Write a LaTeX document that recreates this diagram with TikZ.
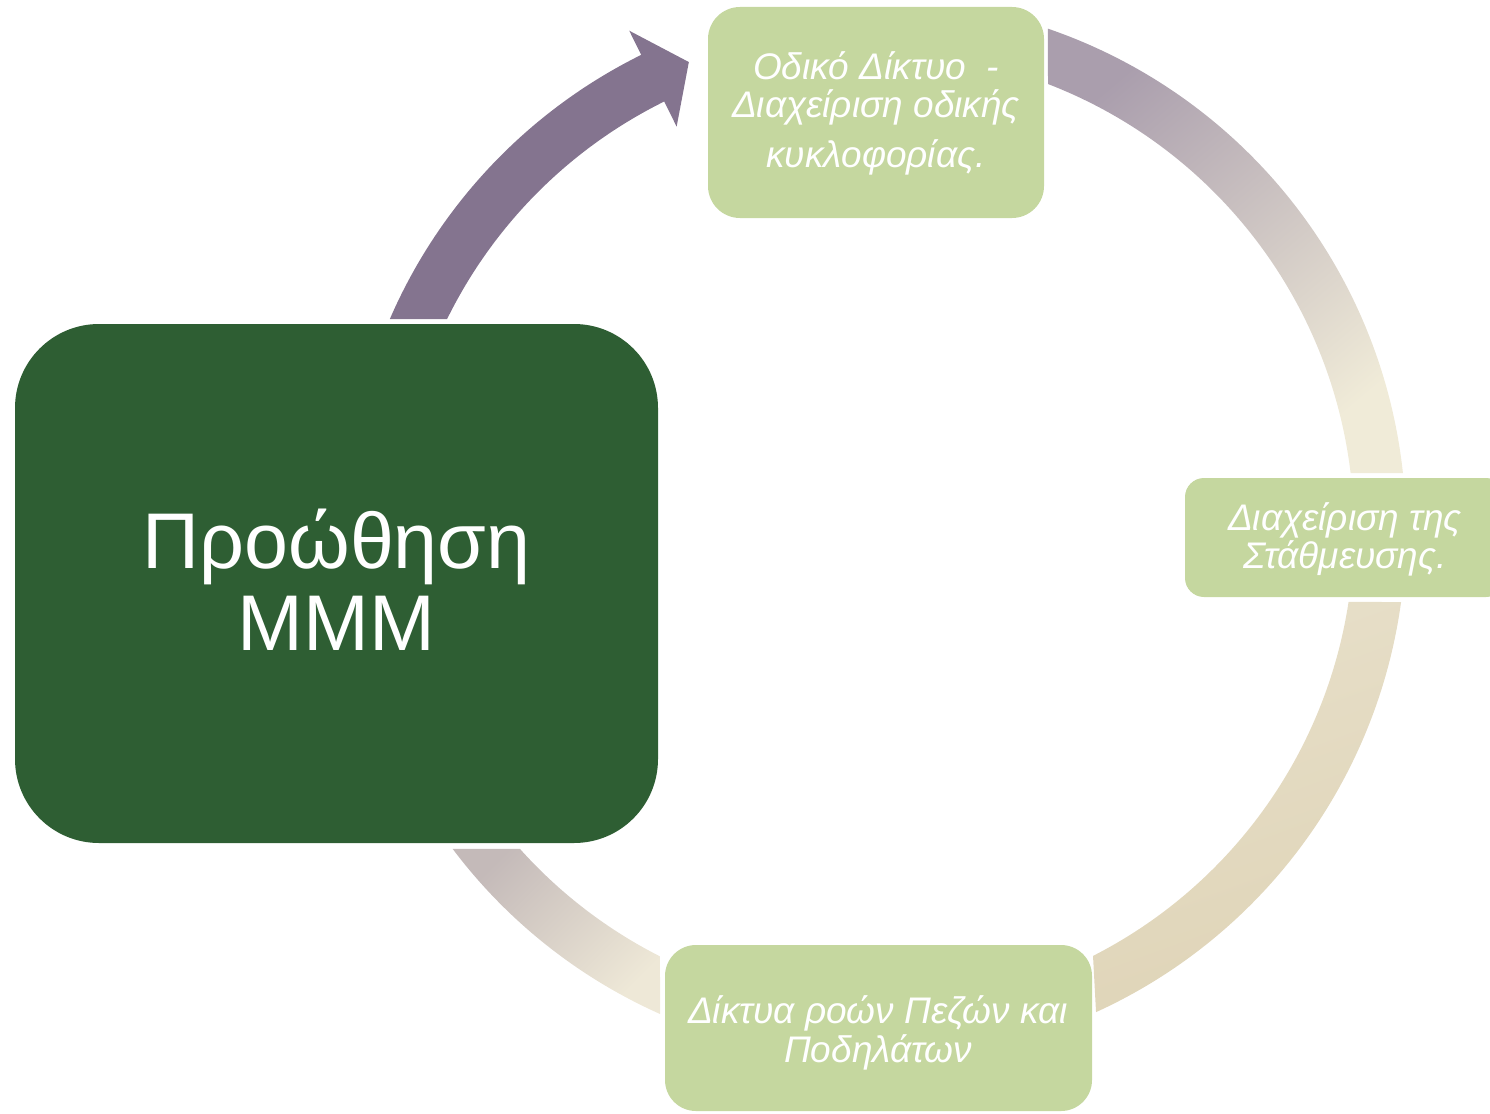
\documentclass[tikz,border=0pt]{standalone}
\usepackage{fontspec}
\setmainfont{Liberation Sans}
\definecolor{dkgreen}{HTML}{2E5E33}
\definecolor{ltgreen}{HTML}{C5D79F}
\definecolor{arrowc}{HTML}{84748F}
\definecolor{ringAa}{HTML}{AA9EAD}
\definecolor{ringAb}{HTML}{F0EBD8}
\definecolor{ringBa}{HTML}{E7DFC9}
\definecolor{ringBb}{HTML}{DFD4B7}
\definecolor{ringCa}{HTML}{C4BAB9}
\definecolor{ringCb}{HTML}{EEE8D7}
\begin{document}
\begin{tikzpicture}[x=1pt,y=1pt,
  gbox/.style={fill=ltgreen, draw=none, inner sep=0pt},
  gtext/.style={text=white, align=center, inner sep=0pt, font=\itshape},
  mtext/.style={text=white, align=center, inner sep=0pt}]
\useasboundingbox (0,0) rectangle (1490,-1113);
\clip (0,0) rectangle (1490,-1113);
\coordinate (C) at (876,-530);

% ring segment: top-right
\shade[top color=ringAa, bottom color=ringAb, shading angle=40]
  ([shift={(C)}]71.07:530) arc[start angle=71.07, end angle=6.17, radius=530]
  -- ([shift={(C)}]6.85:478) arc[start angle=6.85, end angle=68.91, radius=478] -- cycle;
% ring segment: right-bottom
\shade[top color=ringBa, bottom color=ringBb, shading angle=20]
  ([shift={(C)}]-7.81:530) arc[start angle=-7.81, end angle=-65.47, radius=530]
  -- ([shift={(C)}]-63.0:478) arc[start angle=-63.0, end angle=-8.66, radius=478] -- cycle;
% ring segment: bottom-left
\shade[top color=ringCa, bottom color=ringCb, shading angle=45]
  ([shift={(C)}]217.0:530) arc[start angle=217.0, end angle=245.95, radius=530]
  -- ([shift={(C)}]243.13:478) arc[start angle=243.13, end angle=221.86, radius=478] -- cycle;
% arrow
\fill[arrowc]
  ([shift={(C)}]156.54:530) arc[start angle=156.54, end angle=116.3, radius=530]
  -- ([shift={(C)}]116.3:557) -- ([shift={(C)}]111.8:504) -- ([shift={(C)}]116.3:450)
  -- ([shift={(C)}]116.3:478) arc[start angle=116.3, end angle=153.81, radius=478] -- cycle;

% boxes
\node[fill=dkgreen, draw=none, rounded corners=84pt, minimum width=643pt, minimum height=519pt, inner sep=0pt] (mmm) at (336.5,-583.5) {};
\node[gbox, rounded corners=32pt, minimum width=336pt, minimum height=211pt] (road) at (876,-112.5) {};
\node[gbox, rounded corners=19pt, minimum width=320pt, minimum height=119pt] (park) at (1345,-537.5) {};
\node[gbox, rounded corners=31pt, minimum width=427pt, minimum height=166pt] (walk) at (878.5,-1028) {};

% texts
\node[mtext, font=\fontsize{79}{82}\selectfont] (tmmm) at ([yshift=4pt]mmm.center) {Προώθηση\\ΜΜΜ};
\node[gtext, font=\fontsize{37}{38}\selectfont\itshape] (troad) at ([yshift=-0.8pt]road.center) {Οδικό Δίκτυο\ \ -\\Διαχείριση οδικής\\[12pt]κυκλοφορίας.};
\node[gtext, font=\fontsize{37}{38}\selectfont\itshape] (tpark) at (1345,-539) {Διαχείριση της\\Στάθμευσης.};
\node[gtext, font=\fontsize{37}{39}\selectfont\itshape] (twalk) at (878,-1033) {Δίκτυα ροών Πεζών και\\Ποδηλάτων};
\end{tikzpicture}
\end{document}
